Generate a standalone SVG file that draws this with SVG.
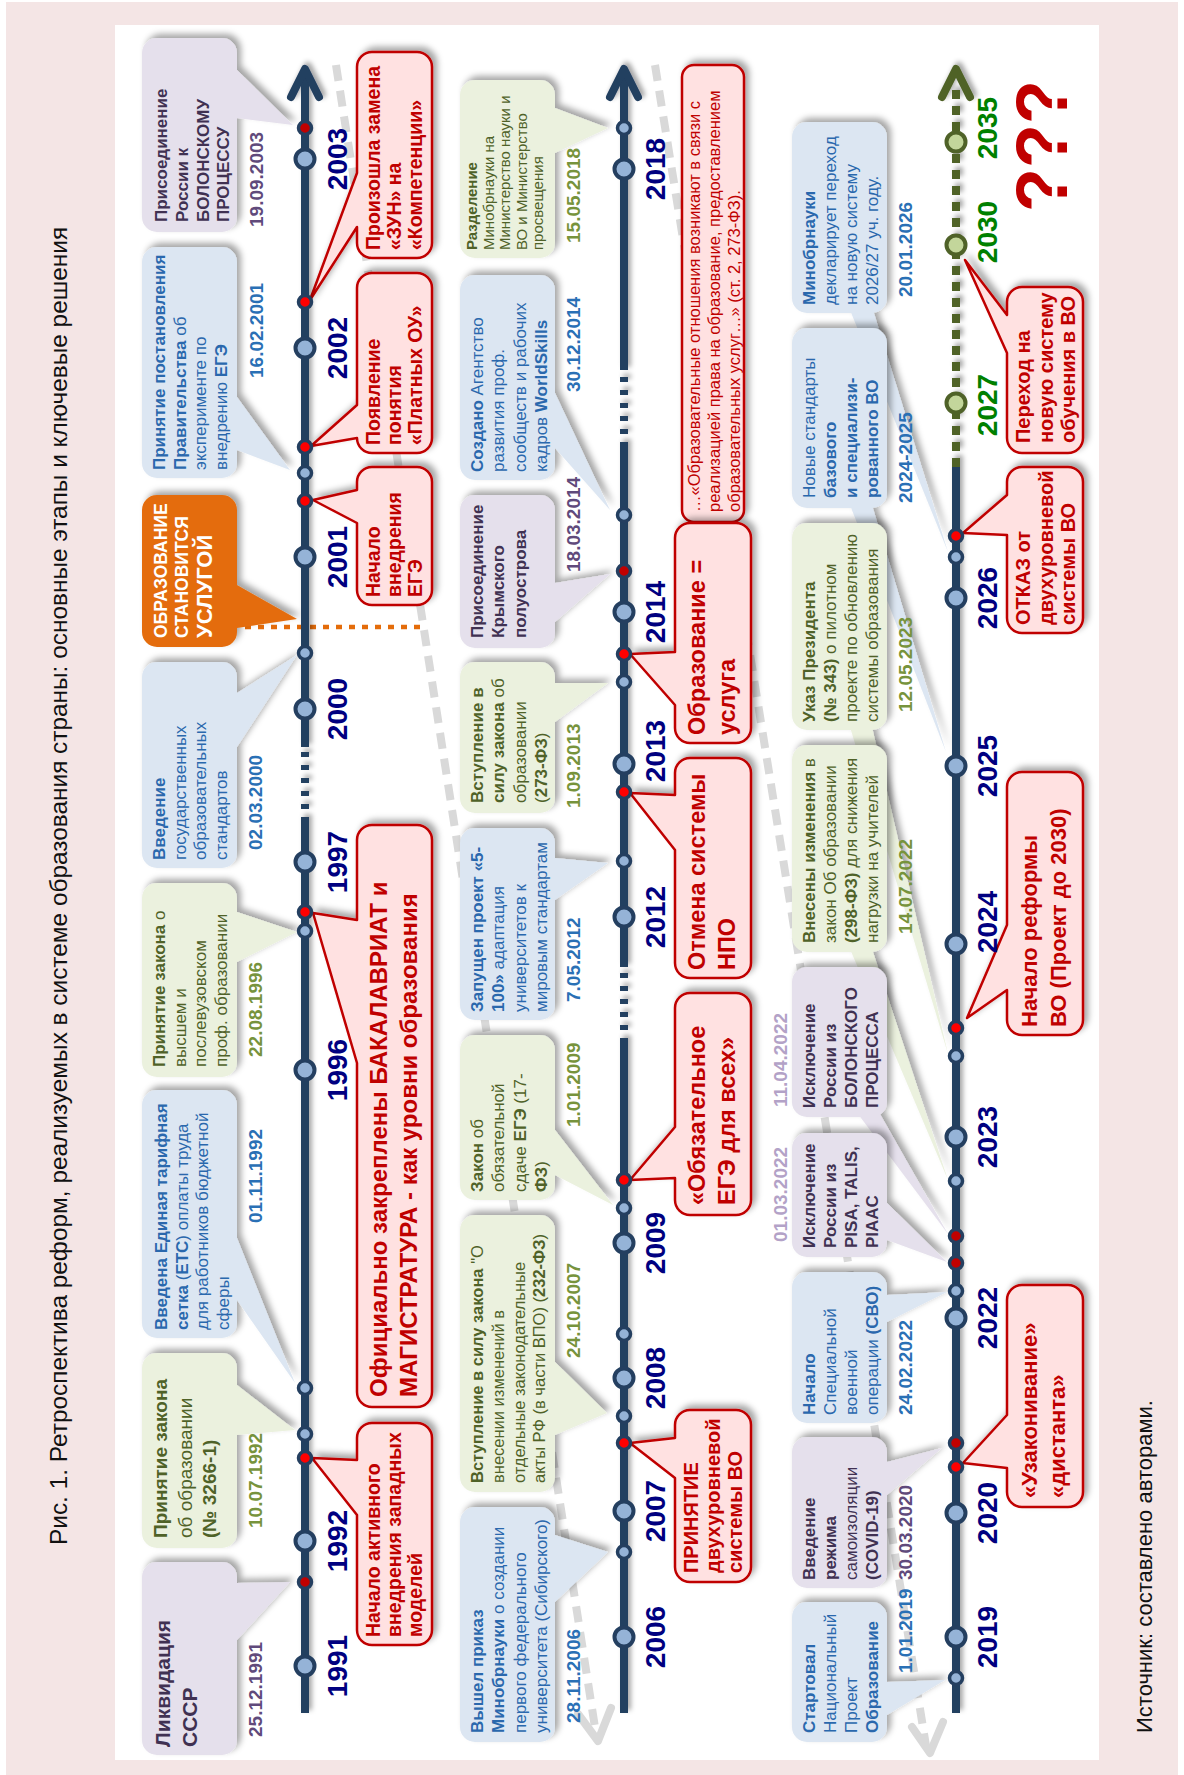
<svg xmlns="http://www.w3.org/2000/svg" width="1184" height="1775" viewBox="0 0 1184 1775">
<defs>
<filter id="sh" x="-20%" y="-20%" width="140%" height="140%"><feDropShadow dx="4" dy="-4" stdDeviation="3" flood-color="#000" flood-opacity="0.35"/></filter>
<filter id="sha" x="-50%" y="-5%" width="200%" height="110%"><feDropShadow dx="3" dy="-3" stdDeviation="2.5" flood-color="#000" flood-opacity="0.35"/></filter>
</defs>
<style>
text{font-family:"Liberation Sans",Arial,Helvetica,sans-serif}
.b{font-weight:bold}
.bx{fill:#dce6f2}.gx{fill:#ebf1de}.px{fill:#e5e0ec}
.rx{fill:#ffe1e1;stroke:#c00000;stroke-width:2.5;stroke-linejoin:round}
.ox{fill:#e46c0a}
.tb{fill:#2a68ad;font-size:17px}.tg{fill:#4f6228;font-size:17px}.tp{fill:#403152;font-size:17px;font-weight:bold}
.tr{fill:#c00000;font-weight:bold;font-size:19.5px}
.d{font-weight:bold;font-size:19px}
.db{fill:#2a70b5}.dg{fill:#77933c}.dp{fill:#604a7b}.dl{fill:#b3a2c7}
.yr{font-weight:bold;font-size:28px;fill:#000080;text-anchor:middle}
.yg{fill:#008000}
.ax{stroke:#243f60;stroke-width:8;fill:none}
.big{fill:#95b3d7;stroke:#243f60;stroke-width:4}
.sm{fill:#95b3d7;stroke:#243f60;stroke-width:3.5}
.rd{fill:#ff0000;stroke:#243f60;stroke-width:3.5}
.rdd{fill:#c00000;stroke:#243f60;stroke-width:3.5}
.gc{fill:#c3d69b;stroke:#4f6228;stroke-width:4}
.sd{filter:url(#sh)}
.gl{stroke:#d9d9d9;stroke-width:8;fill:none}
</style>
<rect x="0" y="0" width="1184" height="1775" fill="#ffffff"/>
<rect x="6" y="2" width="1172" height="1773" fill="#f4e5e5"/>
<rect x="115" y="25" width="984" height="1735" fill="#ffffff"/>
<text transform="translate(67,1545) rotate(-90)" font-size="24.4" fill="#111">Рис. 1. Ретроспектива реформ, реализуемых в системе образования страны: основные этапы и ключевые решения</text>
<text transform="translate(1152,1733) rotate(-90)" font-size="22" fill="#111">Источник: составлено авторами.</text>

<g id="connectors">
<path class="gl" d="M336,65 L596,1734" stroke-dasharray="16 10"/>
<polyline class="gl" points="578,1714 598,1741 611,1708" stroke-linecap="round" stroke-linejoin="round"/>
<path class="gl" d="M655,65 L926,1746" stroke-dasharray="16 10"/>
<polyline class="gl" points="912,1727 930,1753 943,1722" stroke-linecap="round" stroke-linejoin="round"/>
<path d="M245,627 H425" stroke="#e46c0a" stroke-width="4.5" stroke-dasharray="6 7"/>
</g>

<g id="n-a1" class="sd"><path class="px" d="M157,1562 H222 A15 15 0 0 1 237,1577 V1583 L290,1582 L237,1640 V1740 A15 15 0 0 1 222,1755 H157 A15 15 0 0 1 142,1740 V1577 A15 15 0 0 1 157,1562 Z"/></g>
<text class="tp" transform="translate(170,1747) rotate(-90)" style="font-size:21px"><tspan x="0">Ликвидация</tspan><tspan x="0" y="27">СССР</tspan></text>
<text class="d dp" transform="translate(262,1737) rotate(-90)">25.12.1991</text>

<g id="n-a2" class="sd"><path class="gx" d="M157,1353 H222 A15 15 0 0 1 237,1368 V1385 L295,1430 L237,1435 V1533 A15 15 0 0 1 222,1548 H157 A15 15 0 0 1 142,1533 V1368 A15 15 0 0 1 157,1353 Z"/></g>
<text class="tg" style="font-size:19px" transform="translate(167,1538) rotate(-90)"><tspan x="0" class="b">Принятие закона</tspan><tspan x="0" y="24.5">об образовании</tspan><tspan x="0" y="49" class="b">(№ 3266-1)</tspan></text>
<text class="d dg" transform="translate(262,1528) rotate(-90)">10.07.1992</text>

<g id="n-a3" class="sd"><path class="bx" d="M157,1090 H222 A15 15 0 0 1 237,1105 V1238 L295,1383 L237,1300 V1323 A15 15 0 0 1 222,1338 H157 A15 15 0 0 1 142,1323 V1105 A15 15 0 0 1 157,1090 Z"/></g>
<text class="tb" transform="translate(167,1330) rotate(-90)"><tspan x="0" class="b">Введена Единая тарифная</tspan><tspan x="0" y="20.5"><tspan class="b">сетка</tspan> (<tspan class="b">ЕТС</tspan>) оплаты труда</tspan><tspan x="0" y="41">для работников бюджетной</tspan><tspan x="0" y="61.5">сферы</tspan></text>
<text class="d db" transform="translate(262,1223) rotate(-90)">01.11.1992</text>

<g id="n-a4" class="sd"><path class="gx" d="M157,883 H222 A15 15 0 0 1 237,898 V912 L297,932 L237,962 V1062 A15 15 0 0 1 222,1077 H157 A15 15 0 0 1 142,1062 V898 A15 15 0 0 1 157,883 Z"/></g>
<text class="tg" transform="translate(165,1067) rotate(-90)"><tspan x="0"><tspan class="b">Принятие закона</tspan> о</tspan><tspan x="0" y="20.5">высшем и</tspan><tspan x="0" y="41">послевузовском</tspan><tspan x="0" y="61.5">проф. образовании</tspan></text>
<text class="d dg" transform="translate(262,1057) rotate(-90)">22.08.1996</text>

<g id="n-a5" class="sd"><path class="bx" d="M157,662 H222 A15 15 0 0 1 237,677 V693 L297,655 L237,747 V853 A15 15 0 0 1 222,868 H157 A15 15 0 0 1 142,853 V677 A15 15 0 0 1 157,662 Z"/></g>
<text class="tb" transform="translate(165,860) rotate(-90)"><tspan x="0" class="b">Введение</tspan><tspan x="0" y="20.5">государственных</tspan><tspan x="0" y="41">образовательных</tspan><tspan x="0" y="61.5">стандартов</tspan></text>
<text class="d db" transform="translate(262,850) rotate(-90)">02.03.2000</text>

<g id="n-a6" class="sd"><path class="ox" d="M157,495 H222 A15 15 0 0 1 237,510 V585 L297,619 L237,628 V632 A15 15 0 0 1 222,647 H157 A15 15 0 0 1 142,632 V510 A15 15 0 0 1 157,495 Z"/></g>
<text fill="#ffffff" font-weight="bold" font-size="17.5" transform="translate(167,638) rotate(-90)"><tspan x="0">ОБРАЗОВАНИЕ</tspan><tspan x="0" y="20.5">СТАНОВИТСЯ</tspan><tspan x="0" y="44.5" font-size="22">УСЛУГОЙ</tspan></text>

<g id="n-a7" class="sd"><path class="bx" d="M157,247 H222 A15 15 0 0 1 237,262 V397 L290,470 L237,450 V463 A15 15 0 0 1 222,478 H157 A15 15 0 0 1 142,463 V262 A15 15 0 0 1 157,247 Z"/></g>
<text class="tb" transform="translate(165,470) rotate(-90)"><tspan x="0" class="b">Принятие постановления</tspan><tspan x="0" y="20.5"><tspan class="b">Правительства</tspan> об</tspan><tspan x="0" y="41">эксперименте по</tspan><tspan x="0" y="61.5">внедрению <tspan class="b">ЕГЭ</tspan></tspan></text>
<text class="d db" transform="translate(263,378) rotate(-90)">16.02.2001</text>

<g id="n-a8" class="sd"><path class="px" d="M157,38 H222 A15 15 0 0 1 237,53 V70 L293,125 L237,118 V217 A15 15 0 0 1 222,232 H157 A15 15 0 0 1 142,217 V53 A15 15 0 0 1 157,38 Z"/></g>
<text class="tp" transform="translate(167,222) rotate(-90)"><tspan x="0">Присоединение</tspan><tspan x="0" y="20.8">России к</tspan><tspan x="0" y="41.6">БОЛОНСКОМУ</tspan><tspan x="0" y="62.4">ПРОЦЕССУ</tspan></text>
<text class="d dp" transform="translate(263,227) rotate(-90)">19.09.2003</text>

<g id="n-r1a" class="sd"><path class="rx" d="M372,52 H417 A15 15 0 0 1 432,67 V243 A15 15 0 0 1 417,258 H372 A15 15 0 0 1 357,243 V227 L310,300 L357,173 V67 A15 15 0 0 1 372,52 Z"/></g>
<text class="tr" transform="translate(380,250) rotate(-90)"><tspan x="0">Произошла замена</tspan><tspan x="0" y="21">«ЗУН» на</tspan><tspan x="0" y="42">«Компетенции»</tspan></text>

<g id="n-r1b" class="sd"><path class="rx" d="M372,273 H417 A15 15 0 0 1 432,288 V438 A15 15 0 0 1 417,453 H372 A15 15 0 0 1 357,438 L311,446 L357,405 V288 A15 15 0 0 1 372,273 Z"/></g>
<text class="tr" transform="translate(380,445) rotate(-90)"><tspan x="0">Появление</tspan><tspan x="0" y="21">понятия</tspan><tspan x="0" y="42">«Платных ОУ»</tspan></text>

<g id="n-r1c" class="sd"><path class="rx" d="M372,467 H417 A15 15 0 0 1 432,482 V590 A15 15 0 0 1 417,605 H372 A15 15 0 0 1 357,590 V523 L313,500 L357,490 V482 A15 15 0 0 1 372,467 Z"/></g>
<text class="tr" transform="translate(380,597) rotate(-90)"><tspan x="0">Начало</tspan><tspan x="0" y="21">внедрения</tspan><tspan x="0" y="42">ЕГЭ</tspan></text>

<g id="n-r1d" class="sd"><path class="rx" d="M372,825 H417 A15 15 0 0 1 432,840 V1392 A15 15 0 0 1 417,1407 H372 A15 15 0 0 1 357,1392 V1063 L313,913 L357,920 V840 A15 15 0 0 1 372,825 Z"/></g>
<text class="tr" style="font-size:24px" transform="translate(387,1397) rotate(-90)"><tspan x="0">Официально закреплены БАКАЛАВРИАТ и</tspan><tspan x="0" y="30">МАГИСТРАТУРА - как уровни образования</tspan></text>

<g id="n-r1e" class="sd"><path class="rx" d="M372,1423 H417 A15 15 0 0 1 432,1438 V1630 A15 15 0 0 1 417,1645 H372 A15 15 0 0 1 357,1630 V1515 L312,1458 L357,1460 V1438 A15 15 0 0 1 372,1423 Z"/></g>
<text class="tr" transform="translate(380,1637) rotate(-90)"><tspan x="0">Начало активного</tspan><tspan x="0" y="21">внедрения западных</tspan><tspan x="0" y="42">моделей</tspan></text>

<g id="n-b1" class="sd"><path class="gx" d="M475,80 H540 A15 15 0 0 1 555,95 V108 L608,128 L555,153 V243 A15 15 0 0 1 540,258 H475 A15 15 0 0 1 460,243 V95 A15 15 0 0 1 475,80 Z"/></g>
<text class="tg" style="font-size:15px" transform="translate(477,250) rotate(-90)"><tspan x="0" class="b">Разделение</tspan><tspan x="0" y="16.6">Минобрнауки на</tspan><tspan x="0" y="33.2">Министерство науки и</tspan><tspan x="0" y="49.8">ВО и Министерство</tspan><tspan x="0" y="66.4">просвещения</tspan></text>
<text class="d dg" transform="translate(580,243) rotate(-90)">15.05.2018</text>

<g id="n-b2" class="sd"><path class="bx" d="M475,275 H540 A15 15 0 0 1 555,290 V393 L610,510 L555,448 V465 A15 15 0 0 1 540,480 H475 A15 15 0 0 1 460,465 V290 A15 15 0 0 1 475,275 Z"/></g>
<text class="tb" transform="translate(483,472) rotate(-90)"><tspan x="0"><tspan class="b">Создано</tspan> Агентство</tspan><tspan x="0" y="21.3">развития проф.</tspan><tspan x="0" y="42.6">сообществ и рабочих</tspan><tspan x="0" y="64">кадров <tspan class="b">WorldSkills</tspan></tspan></text>
<text class="d db" transform="translate(580,392) rotate(-90)">30.12.2014</text>

<g id="n-b3" class="sd"><path class="px" d="M475,495 H540 A15 15 0 0 1 555,510 V583 L610,574 L555,622 V633 A15 15 0 0 1 540,648 H475 A15 15 0 0 1 460,633 V510 A15 15 0 0 1 475,495 Z"/></g>
<text class="tp" transform="translate(483,638) rotate(-90)"><tspan x="0">Присоединение</tspan><tspan x="0" y="21.3">Крымского</tspan><tspan x="0" y="42.6">полуострова</tspan></text>
<text class="d dp" transform="translate(580,572) rotate(-90)">18.03.2014</text>

<g id="n-b4" class="sd"><path class="gx" d="M475,662 H540 A15 15 0 0 1 555,677 V683 L608,683 L555,722 V798 A15 15 0 0 1 540,813 H475 A15 15 0 0 1 460,798 V677 A15 15 0 0 1 475,662 Z"/></g>
<text class="tg" transform="translate(483,803) rotate(-90)"><tspan x="0" class="b">Вступление в</tspan><tspan x="0" y="21.3"><tspan class="b">силу закона</tspan> об</tspan><tspan x="0" y="42.6">образовании</tspan><tspan x="0" y="64">(<tspan class="b">273-ФЗ</tspan>)</tspan></text>
<text class="d dg" transform="translate(580,808) rotate(-90)">1.09.2013</text>

<g id="n-b5" class="sd"><path class="bx" d="M475,828 H540 A15 15 0 0 1 555,843 V858 L608,863 L555,900 V1005 A15 15 0 0 1 540,1020 H475 A15 15 0 0 1 460,1005 V843 A15 15 0 0 1 475,828 Z"/></g>
<text class="tb" transform="translate(483,1012) rotate(-90)"><tspan x="0" class="b">Запущен проект «5-</tspan><tspan x="0" y="21.3"><tspan class="b">100»</tspan> адаптация</tspan><tspan x="0" y="42.6">университетов к</tspan><tspan x="0" y="64">мировым стандартам</tspan></text>
<text class="d db" transform="translate(580,1002) rotate(-90)">7.05.2012</text>

<g id="n-b6" class="sd"><path class="gx" d="M475,1035 H540 A15 15 0 0 1 555,1050 V1130 L613,1205 L555,1175 V1185 A15 15 0 0 1 540,1200 H475 A15 15 0 0 1 460,1185 V1050 A15 15 0 0 1 475,1035 Z"/></g>
<text class="tg" transform="translate(483,1192) rotate(-90)"><tspan x="0"><tspan class="b">Закон</tspan> об</tspan><tspan x="0" y="21.3">обязательной</tspan><tspan x="0" y="42.6">сдаче <tspan class="b">ЕГЭ</tspan> (17-</tspan><tspan x="0" y="64"><tspan class="b">ФЗ</tspan>)</tspan></text>
<text class="d dg" transform="translate(580,1127) rotate(-90)">1.01.2009</text>

<g id="n-b7" class="sd"><path class="gx" d="M475,1215 H540 A15 15 0 0 1 555,1230 V1362 L607,1413 L555,1435 V1477 A15 15 0 0 1 540,1492 H475 A15 15 0 0 1 460,1477 V1230 A15 15 0 0 1 475,1215 Z"/></g>
<text class="tg" style="font-size:16.5px" transform="translate(483,1483) rotate(-90)"><tspan x="0"><tspan class="b">Вступление в силу закона</tspan> "О</tspan><tspan x="0" y="20.8">внесении изменений в</tspan><tspan x="0" y="41.6">отдельные законодательные</tspan><tspan x="0" y="62.4">акты РФ (в части ВПО) (<tspan class="b">232-ФЗ</tspan>)</tspan></text>
<text class="d dg" transform="translate(580,1358) rotate(-90)">24.10.2007</text>

<g id="n-b8" class="sd"><path class="bx" d="M475,1507 H540 A15 15 0 0 1 555,1522 V1535 L608,1552 L555,1602 V1727 A15 15 0 0 1 540,1742 H475 A15 15 0 0 1 460,1727 V1522 A15 15 0 0 1 475,1507 Z"/></g>
<text class="tb" transform="translate(483,1733) rotate(-90)"><tspan x="0" class="b">Вышел приказ</tspan><tspan x="0" y="21.3"><tspan class="b">Минобрнауки</tspan> о создании</tspan><tspan x="0" y="42.6">первого федерального</tspan><tspan x="0" y="64">университета (Сибирского)</tspan></text>
<text class="d db" transform="translate(580,1723) rotate(-90)">28.11.2006</text>

<g id="n-r2a" class="sd"><rect class="rx" x="682" y="65" width="62" height="457" rx="12"/></g>
<text fill="#c00000" font-size="16.5" transform="translate(700,512) rotate(-90)"><tspan x="0">…«Образовательные отношения возникают в связи с</tspan><tspan x="0" y="20">реализацией права на образование, предоставлением</tspan><tspan x="0" y="40">образовательных услуг…» (ст. 2, 273-ФЗ).</tspan></text>

<g id="n-r2b" class="sd"><path class="rx" d="M690,523 H736 A15 15 0 0 1 751,538 V728 A15 15 0 0 1 736,743 H690 A15 15 0 0 1 675,728 V705 L630,654 L675,652 V538 A15 15 0 0 1 690,523 Z"/></g>
<text class="tr" style="font-size:23.5px" transform="translate(705,735) rotate(-90)"><tspan x="0">Образование =</tspan><tspan x="0" y="30">услуга</tspan></text>

<g id="n-r2c" class="sd"><path class="rx" d="M690,758 H736 A15 15 0 0 1 751,773 V963 A15 15 0 0 1 736,978 H690 A15 15 0 0 1 675,963 V850 L630,793 L675,795 V773 A15 15 0 0 1 690,758 Z"/></g>
<text class="tr" style="font-size:23.5px" transform="translate(705,970) rotate(-90)"><tspan x="0">Отмена системы</tspan><tspan x="0" y="30">НПО</tspan></text>

<g id="n-r2d" class="sd"><path class="rx" d="M690,993 H736 A15 15 0 0 1 751,1008 V1200 A15 15 0 0 1 736,1215 H690 A15 15 0 0 1 675,1200 V1178 L630,1180 L675,1127 V1008 A15 15 0 0 1 690,993 Z"/></g>
<text class="tr" style="font-size:23.5px" transform="translate(705,1205) rotate(-90)"><tspan x="0">«Обязательное</tspan><tspan x="0" y="30">ЕГЭ для всех»</tspan></text>

<g id="n-r2e" class="sd"><path class="rx" d="M690,1410 H736 A15 15 0 0 1 751,1425 V1567 A15 15 0 0 1 736,1582 H690 A15 15 0 0 1 675,1567 V1478 L630,1443 L675,1438 V1425 A15 15 0 0 1 690,1410 Z"/></g>
<text class="tr" style="font-size:20px" transform="translate(698,1573) rotate(-90)"><tspan x="0">ПРИНЯТИЕ</tspan><tspan x="0" y="22">двухуровневой</tspan><tspan x="0" y="44">системы ВО</tspan></text>

<g id="n-c1" class="sd"><polygon class="bx" points="850,310 873,310 948,552"/><rect class="bx" x="792" y="122" width="95" height="191" rx="15"/></g>
<text class="tb" transform="translate(815,305) rotate(-90)"><tspan x="0" class="b">Минобрнауки</tspan><tspan x="0" y="21">декларирует переход</tspan><tspan x="0" y="42">на новую систему</tspan><tspan x="0" y="63">2026/27 уч. году.</tspan></text>
<text class="d db" transform="translate(912,297) rotate(-90)">20.01.2026</text>

<g id="n-c2" class="sd"><polygon class="bx" points="850,505 872,505 946,752"/><rect class="bx" x="792" y="328" width="95" height="180" rx="15"/></g>
<text class="tb" transform="translate(815,498) rotate(-90)"><tspan x="0">Новые стандарты</tspan><tspan x="0" y="21" class="b">базового</tspan><tspan x="0" y="42" class="b">и специализи-</tspan><tspan x="0" y="63" class="b">рованного ВО</tspan></text>
<text class="d db" transform="translate(912,503) rotate(-90)">2024-2025</text>

<g id="n-c3" class="sd"><polygon class="gx" points="850,727 872,727 948,1054"/><rect class="gx" x="792" y="523" width="95" height="207" rx="15"/></g>
<text class="tg" transform="translate(815,722) rotate(-90)"><tspan x="0" class="b">Указ Президента</tspan><tspan x="0" y="21"><tspan class="b">(№ 343)</tspan> о пилотном</tspan><tspan x="0" y="42">проекте по обновлению</tspan><tspan x="0" y="63">системы образования</tspan></text>
<text class="d dg" transform="translate(912,712) rotate(-90)">12.05.2023</text>

<g id="n-c4" class="sd"><polygon class="gx" points="850,949 872,949 948,1180"/><rect class="gx" x="792" y="745" width="95" height="207" rx="15"/></g>
<text class="tg" transform="translate(815,943) rotate(-90)"><tspan x="0"><tspan class="b">Внесены изменения</tspan> в</tspan><tspan x="0" y="21">закон Об образовании</tspan><tspan x="0" y="42"><tspan class="b">(298-ФЗ)</tspan> для снижения</tspan><tspan x="0" y="63">нагрузки на учителей</tspan></text>
<text class="d dg" transform="translate(912,934) rotate(-90)">14.07.2022</text>

<g id="n-c5" class="sd"><polygon class="px" points="858,1114 880,1114 948,1234"/><rect class="px" x="792" y="967" width="95" height="150" rx="15"/></g>
<text class="tp" transform="translate(815,1108) rotate(-90)"><tspan x="0">Исключение</tspan><tspan x="0" y="21">России из</tspan><tspan x="0" y="42">БОЛОНСКОГО</tspan><tspan x="0" y="63">ПРОЦЕССА</tspan></text>
<text class="d dl" transform="translate(787,1107) rotate(-90)">11.04.2022</text>

<g id="n-c6" class="sd"><path class="px" d="M807,1133 H872 A15 15 0 0 1 887,1148 V1203 L947,1262 L887,1240 V1242 A15 15 0 0 1 872,1257 H807 A15 15 0 0 1 792,1242 V1148 A15 15 0 0 1 807,1133 Z"/></g>
<text class="tp" transform="translate(815,1248) rotate(-90)"><tspan x="0">Исключение</tspan><tspan x="0" y="21">России из</tspan><tspan x="0" y="42">PISA, TALIS,</tspan><tspan x="0" y="63">PIAAC</tspan></text>
<text class="d dl" transform="translate(787,1242) rotate(-90)">01.03.2022</text>

<g id="n-c7" class="sd"><path class="bx" d="M807,1272 H872 A15 15 0 0 1 887,1287 V1295 L947,1292 L887,1322 V1408 A15 15 0 0 1 872,1423 H807 A15 15 0 0 1 792,1408 V1287 A15 15 0 0 1 807,1272 Z"/></g>
<text class="tb" transform="translate(815,1415) rotate(-90)"><tspan x="0" class="b">Начало</tspan><tspan x="0" y="21">Специальной</tspan><tspan x="0" y="42">военной</tspan><tspan x="0" y="63">операции <tspan class="b">(СВО)</tspan></tspan></text>
<text class="d db" transform="translate(912,1415) rotate(-90)">24.02.2022</text>

<g id="n-c8" class="sd"><path class="px" d="M807,1437 H872 A15 15 0 0 1 887,1452 V1462 L942,1448 L887,1495 V1573 A15 15 0 0 1 872,1588 H807 A15 15 0 0 1 792,1573 V1452 A15 15 0 0 1 807,1437 Z"/></g>
<text class="tp" transform="translate(815,1580) rotate(-90)"><tspan x="0">Введение</tspan><tspan x="0" y="21">режима</tspan><tspan x="0" y="42" font-weight="normal">самоизоляции</tspan><tspan x="0" y="63">(COVID-19)</tspan></text>
<text class="d dp" transform="translate(912,1580) rotate(-90)">30.03.2020</text>

<g id="n-c9" class="sd"><path class="bx" d="M807,1602 H872 A15 15 0 0 1 887,1617 V1682 L945,1680 L887,1715 V1727 A15 15 0 0 1 872,1742 H807 A15 15 0 0 1 792,1727 V1617 A15 15 0 0 1 807,1602 Z"/></g>
<text class="tb" transform="translate(815,1733) rotate(-90)"><tspan x="0" class="b">Стартовал</tspan><tspan x="0" y="21">Национальный</tspan><tspan x="0" y="42">Проект</tspan><tspan x="0" y="63" class="b">Образование</tspan></text>
<text class="d db" transform="translate(912,1673) rotate(-90)">1.01.2019</text>

<g id="n-r3a" class="sd"><path class="rx" d="M1022,287 H1068 A15 15 0 0 1 1083,302 V438 A15 15 0 0 1 1068,453 H1022 A15 15 0 0 1 1007,438 V353 L965,260 L1007,315 V302 A15 15 0 0 1 1022,287 Z"/></g>
<text class="tr" style="font-size:20px" transform="translate(1030,443) rotate(-90)"><tspan x="0">Переход на</tspan><tspan x="0" y="22.5">новую систему</tspan><tspan x="0" y="45">обучения в ВО</tspan></text>

<g id="n-r3b" class="sd"><path class="rx" d="M1022,467 H1068 A15 15 0 0 1 1083,482 V618 A15 15 0 0 1 1068,633 H1022 A15 15 0 0 1 1007,618 V535 L963,533 L1007,495 V482 A15 15 0 0 1 1022,467 Z"/></g>
<text class="tr" style="font-size:20px" transform="translate(1030,625) rotate(-90)"><tspan x="0">ОТКАЗ от</tspan><tspan x="0" y="22.5">двухуровневой</tspan><tspan x="0" y="45">системы ВО</tspan></text>

<g id="n-r3c" class="sd"><path class="rx" d="M1022,772 H1068 A15 15 0 0 1 1083,787 V1020 A15 15 0 0 1 1068,1035 H1022 A15 15 0 0 1 1007,1020 V990 L967,1018 L1007,925 V787 A15 15 0 0 1 1022,772 Z"/></g>
<text class="tr" style="font-size:22px" transform="translate(1037,1027) rotate(-90)"><tspan x="0">Начало реформы</tspan><tspan x="0" y="29">ВО (Проект до 2030)</tspan></text>

<g id="n-r3d" class="sd"><path class="rx" d="M1022,1285 H1068 A15 15 0 0 1 1083,1300 V1492 A15 15 0 0 1 1068,1507 H1022 A15 15 0 0 1 1007,1492 V1468 L963,1463 L1007,1415 V1300 A15 15 0 0 1 1022,1285 Z"/></g>
<text class="tr" style="font-size:22px" transform="translate(1037,1498) rotate(-90)"><tspan x="0">«Узаконивание»</tspan><tspan x="0" y="28">«дистанта»</tspan></text>

<g id="axes" filter="url(#sha)">
<path class="ax" d="M305,1713 V822 M305,747 V75"/>
<path class="ax" d="M305,822 V747" stroke-dasharray="5 8"/>
<polyline class="ax" points="291,97 305,69 319,97" stroke-linecap="round" stroke-linejoin="round"/>
<path class="ax" d="M624,1713 V1043 M624,967 V447 M624,370 V75"/>
<path class="ax" d="M624,1043 V967 M624,447 V370" stroke-dasharray="5 8"/>
<polyline class="ax" points="610,97 624,69 638,97" stroke-linecap="round" stroke-linejoin="round"/>
<path class="ax" d="M956,1713 V467"/>
<path d="M956,467 V85" stroke="#4f6228" stroke-width="8" stroke-dasharray="9 7" fill="none"/>
<polyline points="942,97 956,69 970,97" stroke="#4f6228" stroke-width="8" fill="none" stroke-linecap="round" stroke-linejoin="round"/>
</g>
<g id="ticks">
<circle class="rdd" cx="305" cy="128" r="6.5"/><circle class="big" cx="305" cy="159" r="9.5"/><circle class="rd" cx="305" cy="302" r="6.5"/><circle class="big" cx="305" cy="348" r="9.5"/><circle class="rd" cx="305" cy="447" r="6.5"/><circle class="sm" cx="305" cy="473" r="6.5"/><circle class="rd" cx="305" cy="501" r="6.5"/><circle class="big" cx="305" cy="557" r="9.5"/><circle class="sm" cx="305" cy="653" r="6.5"/><circle class="big" cx="305" cy="709" r="9.5"/><circle class="big" cx="305" cy="862" r="9.5"/><circle class="rd" cx="305" cy="912" r="6.5"/><circle class="sm" cx="305" cy="931" r="6.5"/><circle class="big" cx="305" cy="1070" r="9.5"/><circle class="sm" cx="305" cy="1388" r="6.5"/><circle class="sm" cx="305" cy="1434" r="6.5"/><circle class="rd" cx="305" cy="1458" r="6.5"/><circle class="big" cx="305" cy="1541" r="9.5"/><circle class="rdd" cx="305" cy="1582" r="6.5"/><circle class="big" cx="305" cy="1666" r="9.5"/>
<circle class="sm" cx="624" cy="128" r="6.5"/><circle class="big" cx="624" cy="169" r="9.5"/><circle class="sm" cx="624" cy="515" r="6.5"/><circle class="rdd" cx="624" cy="571" r="6.5"/><circle class="big" cx="624" cy="612" r="9.5"/><circle class="rd" cx="624" cy="654" r="6.5"/><circle class="sm" cx="624" cy="682" r="6.5"/><circle class="big" cx="624" cy="764" r="9.5"/><circle class="rd" cx="624" cy="792" r="6.5"/><circle class="sm" cx="624" cy="861" r="6.5"/><circle class="big" cx="624" cy="917" r="9.5"/><circle class="rd" cx="624" cy="1180" r="6.5"/><circle class="sm" cx="624" cy="1208" r="6.5"/><circle class="big" cx="624" cy="1243" r="9.5"/><circle class="sm" cx="624" cy="1334" r="6.5"/><circle class="big" cx="624" cy="1378" r="9.5"/><circle class="sm" cx="624" cy="1416" r="6.5"/><circle class="rd" cx="624" cy="1443" r="6.5"/><circle class="big" cx="624" cy="1511" r="9.5"/><circle class="sm" cx="624" cy="1552" r="6.5"/><circle class="big" cx="624" cy="1637" r="9.5"/>
<circle class="gc" cx="956" cy="142" r="9.5"/><circle class="gc" cx="956" cy="245" r="9.5"/><circle class="gc" cx="956" cy="403" r="9.5"/><circle class="rd" cx="956" cy="536" r="6.5"/><circle class="sm" cx="956" cy="557" r="6.5"/><circle class="big" cx="956" cy="598" r="9.5"/><circle class="big" cx="956" cy="766" r="9.5"/><circle class="big" cx="956" cy="944" r="9.5"/><circle class="rd" cx="956" cy="1028" r="6.5"/><circle class="sm" cx="956" cy="1056" r="6.5"/><circle class="big" cx="956" cy="1137" r="9.5"/><circle class="sm" cx="956" cy="1181" r="6.5"/><circle class="rdd" cx="956" cy="1236" r="6.5"/><circle class="rdd" cx="956" cy="1263" r="6.5"/><circle class="sm" cx="956" cy="1291" r="6.5"/><circle class="big" cx="956" cy="1318" r="9.5"/><circle class="rdd" cx="956" cy="1443" r="6.5"/><circle class="rd" cx="956" cy="1467" r="6.5"/><circle class="big" cx="956" cy="1513" r="9.5"/><circle class="big" cx="956" cy="1637" r="9.5"/><circle class="sm" cx="956" cy="1678" r="6.5"/>
</g>
<g id="years">
<text class="yr" transform="translate(347,159) rotate(-90)">2003</text>
<text class="yr" transform="translate(347,348) rotate(-90)">2002</text>
<text class="yr" transform="translate(347,557) rotate(-90)">2001</text>
<text class="yr" transform="translate(347,709) rotate(-90)">2000</text>
<text class="yr" transform="translate(347,862) rotate(-90)">1997</text>
<text class="yr" transform="translate(347,1070) rotate(-90)">1996</text>
<text class="yr" transform="translate(347,1541) rotate(-90)">1992</text>
<text class="yr" transform="translate(347,1666) rotate(-90)">1991</text>
<text class="yr" transform="translate(665,169) rotate(-90)">2018</text>
<text class="yr" transform="translate(665,612) rotate(-90)">2014</text>
<text class="yr" transform="translate(665,751) rotate(-90)">2013</text>
<text class="yr" transform="translate(665,917) rotate(-90)">2012</text>
<text class="yr" transform="translate(665,1243) rotate(-90)">2009</text>
<text class="yr" transform="translate(665,1378) rotate(-90)">2008</text>
<text class="yr" transform="translate(665,1511) rotate(-90)">2007</text>
<text class="yr" transform="translate(665,1637) rotate(-90)">2006</text>
<text class="yr yg" transform="translate(997,128) rotate(-90)">2035</text>
<text class="yr yg" transform="translate(997,232) rotate(-90)">2030</text>
<text class="yr yg" transform="translate(997,405) rotate(-90)">2027</text>
<text class="yr" transform="translate(997,598) rotate(-90)">2026</text>
<text class="yr" transform="translate(997,766) rotate(-90)">2025</text>
<text class="yr" transform="translate(997,922) rotate(-90)">2024</text>
<text class="yr" transform="translate(997,1137) rotate(-90)">2023</text>
<text class="yr" transform="translate(997,1318) rotate(-90)">2022</text>
<text class="yr" transform="translate(997,1513) rotate(-90)">2020</text>
<text class="yr" transform="translate(997,1637) rotate(-90)">2019</text>
</g>
<text id="qqq" transform="translate(1067,212) rotate(-90)" font-size="72" font-weight="bold" fill="#c00000">???</text>
</svg>
